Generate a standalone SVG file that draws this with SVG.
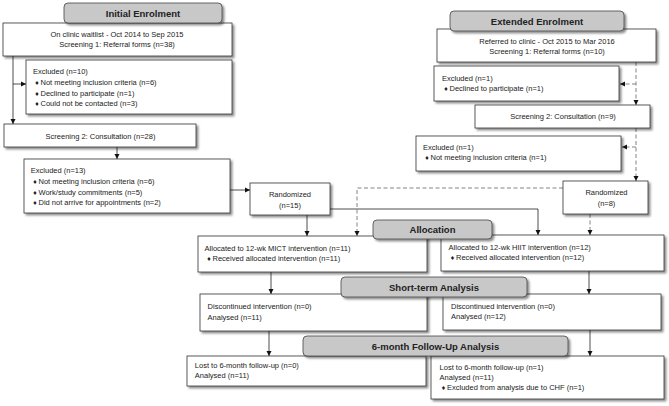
<svg xmlns="http://www.w3.org/2000/svg" width="669" height="406" viewBox="0 0 669 406">
<defs>
<style>
.box{fill:#fff;stroke:#333;stroke-width:0.8;filter:url(#sh)}
.hdr{fill:#c8c8c8;stroke:#444;stroke-width:0.8;filter:url(#sh)}
.t{font-family:"Liberation Sans",Arial,sans-serif;font-size:7.5px;fill:#222}
.c{text-anchor:middle}
.h{font-family:"Liberation Sans",Arial,sans-serif;font-size:9.5px;font-weight:bold;fill:#222;text-anchor:middle}
.b{font-family:"DejaVu Sans",sans-serif;font-size:5.5px}
.ln{fill:none;stroke:#222;stroke-width:0.8;marker-end:url(#ar)}
.ln0{fill:none;stroke:#222;stroke-width:0.8}
.ds{fill:none;stroke:#777;stroke-width:0.9;stroke-dasharray:4,2.5;marker-end:url(#ar)}
.ds0{fill:none;stroke:#777;stroke-width:0.9;stroke-dasharray:4,2.5}
</style>
<filter id="sh" x="-5%" y="-10%" width="115%" height="140%">
<feDropShadow dx="2" dy="2" stdDeviation="0.9" flood-color="#000" flood-opacity="0.45"/>
</filter>
<marker id="ar" markerWidth="6" markerHeight="6" refX="5" refY="3" orient="auto" markerUnits="userSpaceOnUse">
<path d="M0,0.5 L5,3 L0,5.5 Z" fill="#111"/>
</marker>
</defs>
<rect width="669" height="406" fill="#fff"/>

<g id="connectors">
<path class="ln" d="M13,56 V124"/>
<path class="ln" d="M13,84 H26"/>
<path class="ln" d="M117,147 V159"/>
<path class="ln" d="M230,190 H250"/>
<path class="ln" d="M307,215 V236"/>
<path class="ln" d="M330,209 H538 V235"/>
<path class="ds" d="M563,188 H357 V236"/>
<path class="ds" d="M590,214 V235"/>
<path class="ds" d="M636,62 V105"/>
<path class="ds" d="M636,84 H620"/>
<path class="ds" d="M636,128 V181"/>
<path class="ds" d="M636,147 H622"/>
<path class="ln" d="M271,272 V294"/>
<path class="ln" d="M589,271 V294"/>
<path class="ln" d="M269,331 V356"/>
<path class="ln" d="M590,330 V356"/>
</g>

<g id="box1">
<rect class="box" x="3" y="23" width="229" height="33"/>
<text class="t c" x="117" y="36.5">On clinic waitlist - Oct 2014 to Sep 2015</text>
<text class="t c" x="117" y="46.5">Screening 1: Referral forms (n=38)</text>
</g>
<g id="hdr-initial">
<rect class="hdr" x="64" y="3" width="158" height="20" rx="4"/>
<text class="h" x="143" y="16.5">Initial Enrolment</text>
</g>
<g id="excl10">
<rect class="box" x="26" y="60" width="206" height="54"/>
<text class="t" x="33" y="74.2">Excluded (n=10)</text>
<text class="t" y="84.8"><tspan class="b" x="34.5">♦</tspan><tspan x="40.5">Not meeting inclusion criteria (n=6)</tspan></text>
<text class="t" y="95.5"><tspan class="b" x="34.5">♦</tspan><tspan x="40.5">Declined to participate (n=1)</tspan></text>
<text class="t" y="106.2"><tspan class="b" x="34.5">♦</tspan><tspan x="40.5">Could not be contacted (n=3)</tspan></text>
</g>
<g id="scr2">
<rect class="box" x="4" y="124" width="192" height="23"/>
<text class="t c" x="100.5" y="138.5">Screening 2: Consultation (n=28)</text>
</g>
<g id="excl13">
<rect class="box" x="24" y="159" width="206" height="54"/>
<text class="t" x="30.8" y="173">Excluded (n=13)</text>
<text class="t" y="184"><tspan class="b" x="32.5">♦</tspan><tspan x="38.5">Not meeting inclusion criteria (n=6)</tspan></text>
<text class="t" y="194.5"><tspan class="b" x="32.5">♦</tspan><tspan x="38.5">Work/study commitments (n=5)</tspan></text>
<text class="t" y="205"><tspan class="b" x="32.5">♦</tspan><tspan x="38.5">Did not arrive for appointments (n=2)</tspan></text>
</g>
<g id="rand15">
<rect class="box" x="250" y="183" width="80" height="32"/>
<text class="t c" x="290" y="197">Randomized</text>
<text class="t c" x="290" y="207.5">(n=15)</text>
</g>

<g id="extbox">
<rect class="box" x="437" y="29" width="219" height="33"/>
<text class="t c" x="547" y="43.5">Referred to clinic - Oct 2015 to Mar 2016</text>
<text class="t c" x="547" y="53.5">Screening 1: Referral forms (n=10)</text>
</g>
<g id="hdr-ext">
<rect class="hdr" x="450" y="11" width="174" height="20" rx="4"/>
<text class="h" x="537" y="24.5">Extended Enrolment</text>
</g>
<g id="extexcl1">
<rect class="box" x="434" y="66" width="185" height="35"/>
<text class="t" x="442" y="80.5">Excluded (n=1)</text>
<text class="t" y="91"><tspan class="b" x="443.5">♦</tspan><tspan x="449.5">Declined to participate (n=1)</tspan></text>
</g>
<g id="scr2b">
<rect class="box" x="475" y="105" width="175" height="23"/>
<text class="t c" x="563" y="119">Screening 2: Consultation (n=9)</text>
</g>
<g id="extexcl2">
<rect class="box" x="416" y="136" width="205" height="35"/>
<text class="t" x="423" y="149.5">Excluded (n=1)</text>
<text class="t" y="160"><tspan class="b" x="424.5">♦</tspan><tspan x="430.5">Not meeting inclusion criteria (n=1)</tspan></text>
</g>
<g id="rand8">
<rect class="box" x="563" y="181" width="85" height="33"/>
<text class="t c" x="606.5" y="195">Randomized</text>
<text class="t c" x="606.5" y="205.5">(n=8)</text>
</g>

<g id="mict">
<rect class="box" x="198" y="236" width="229" height="36"/>
<text class="t" x="204.6" y="250.5">Allocated to 12-wk MICT intervention (n=11)</text>
<text class="t" y="261"><tspan class="b" x="206.5">♦</tspan><tspan x="212.5">Received allocated intervention (n=11)</tspan></text>
</g>
<g id="hiit">
<rect class="box" x="441" y="235" width="223" height="36"/>
<text class="t" x="448.6" y="249.5">Allocated to 12-wk HIIT intervention (n=12)</text>
<text class="t" y="260"><tspan class="b" x="450">♦</tspan><tspan x="456">Received allocated intervention (n=12)</tspan></text>
</g>
<g id="hdr-alloc">
<rect class="hdr" x="373" y="220" width="119" height="19" rx="4"/>
<text class="h" x="432.5" y="233">Allocation</text>
</g>

<g id="short-left">
<rect class="box" x="200" y="294" width="227" height="37"/>
<text class="t" x="207.6" y="309">Discontinued intervention (n=0)</text>
<text class="t" x="207.6" y="319.5">Analysed (n=11)</text>
</g>
<g id="short-right">
<rect class="box" x="443" y="294" width="218" height="36"/>
<text class="t" x="451" y="308.5">Discontinued intervention (n=0)</text>
<text class="t" x="451" y="319">Analysed (n=12)</text>
</g>
<g id="hdr-short">
<rect class="hdr" x="341" y="277" width="186" height="20" rx="4"/>
<text class="h" x="434" y="290.5">Short-term Analysis</text>
</g>

<g id="lost-left">
<rect class="box" x="187" y="356" width="239" height="30"/>
<text class="t" x="194.8" y="367.5">Lost to 6-month follow-up (n=0)</text>
<text class="t" x="194.8" y="377.5">Analysed (n=11)</text>
</g>
<g id="lost-right">
<rect class="box" x="431" y="356" width="233" height="43"/>
<text class="t" x="439.6" y="369.5">Lost to 6-month follow-up (n=1)</text>
<text class="t" x="439.6" y="379.5">Analysed (n=11)</text>
<text class="t" y="390"><tspan class="b" x="441">♦</tspan><tspan x="447">Excluded from analysis due to CHF (n=1)</tspan></text>
</g>
<g id="hdr-6m">
<rect class="hdr" x="303" y="336" width="265" height="20" rx="4"/>
<text class="h" x="435.5" y="349.5">6-month Follow-Up Analysis</text>
</g>
</svg>
